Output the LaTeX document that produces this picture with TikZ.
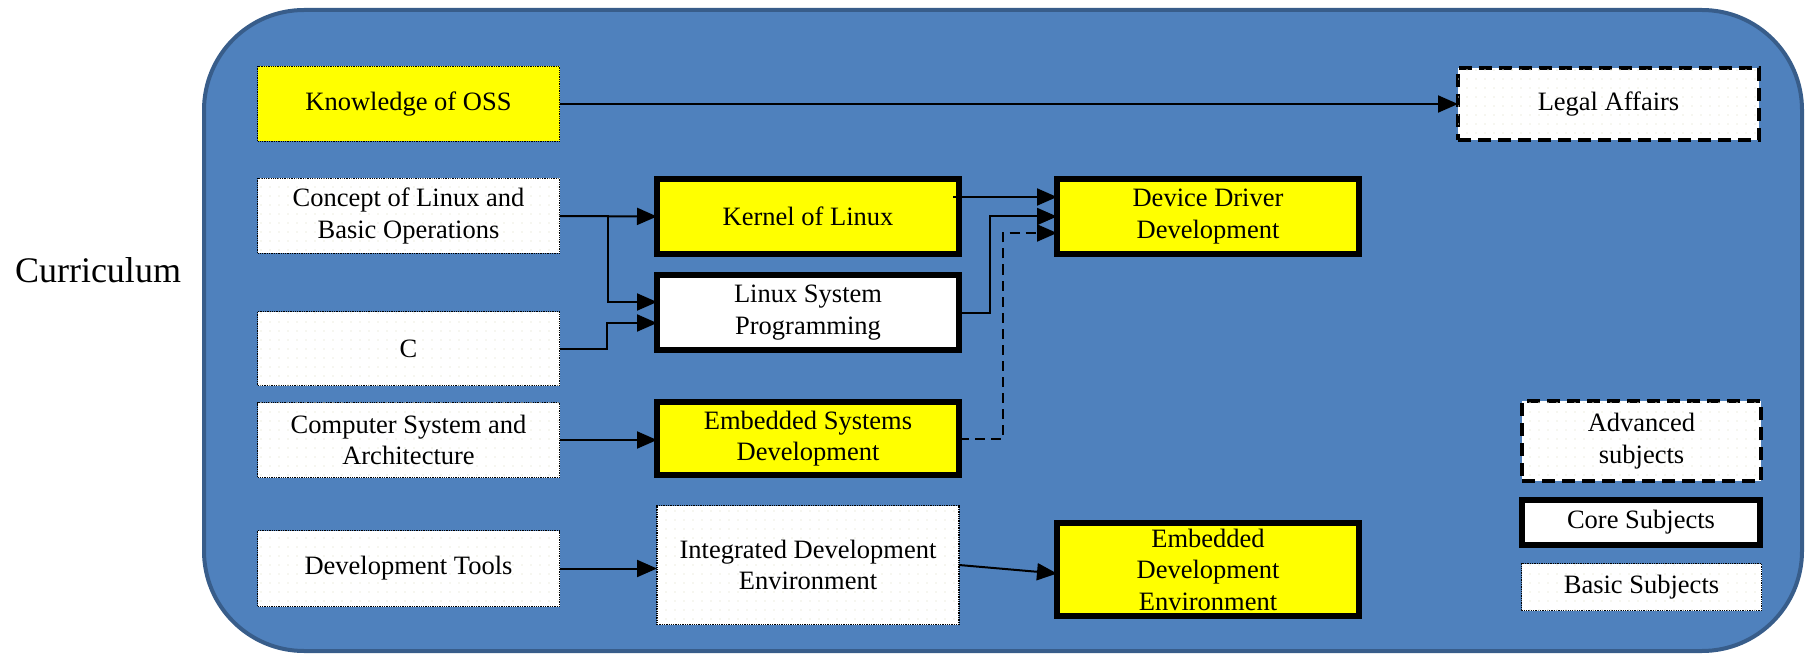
\documentclass[tikz,border=0pt]{standalone}
\usepackage{fontspec}
\setmainfont{Liberation Serif}
\usetikzlibrary{arrows.meta,patterns.meta}
\definecolor{panelfill}{RGB}{79,129,189}
\definecolor{paneledge}{RGB}{56,93,138}
\definecolor{boxyellow}{RGB}{255,255,0}
\definecolor{dotcol}{RGB}{238,238,226}
\begin{document}
\begin{tikzpicture}[x=1pt,y=-1pt,
  every node/.style={font=\rmfamily\fontsize{26.5}{31.5}\selectfont, align=center, inner sep=0pt, outer sep=0pt},
  dotfill/.style={fill=white, postaction={pattern={Dots[distance=9pt,radius=0.9pt]}, pattern color=dotcol}},
  basicbox/.style={draw=black, line width=1.3pt, densely dotted, dotfill},
  corebox/.style={draw=black, line width=5.5pt, fill=white},
  advbox/.style={draw=black, line width=4pt, dash pattern=on 13pt off 7pt, dotfill},
  arr/.style={draw=black, line width=2pt, -{Triangle[length=20pt,width=17pt]}},
  dasharr/.style={arr, dash pattern=on 10pt off 6pt}
]
\useasboundingbox (0,0) rectangle (1805,655);
\draw[fill=panelfill, draw=paneledge, line width=4pt, rounded corners=100pt] (204,10) rectangle (1802,651);
\node[font=\rmfamily\fontsize{36}{40}\selectfont] (title) at (98,270) {Curriculum};

% basic subjects
\node[draw=black, line width=1.3pt, densely dotted, fill=boxyellow, minimum width=302pt, minimum height=75pt] (oss) at (408.5,104) {Knowledge of OSS};
\node[basicbox, minimum width=302pt, minimum height=75pt] (concept) at (408.5,216) {Concept of Linux and\\Basic Operations};
\node[basicbox, minimum width=302pt, minimum height=74pt] (c) at (408.5,348.5) {C};
\node[basicbox, minimum width=302pt, minimum height=75pt] (csa) at (408.5,440) {Computer System and\\Architecture};
\node[basicbox, minimum width=302pt, minimum height=76pt] (tools) at (408.5,568.5) {Development Tools};
\node[basicbox, minimum width=302pt, minimum height=119pt] (ide) at (808,565) {Integrated Development\\Environment};

% core subjects
\node[corebox, fill=boxyellow, minimum width=302pt, minimum height=75pt] (kernel) at (808,216.5) {Kernel of Linux};
\node[corebox, minimum width=302pt, minimum height=75pt] (lsp) at (808,312.5) {Linux System\\Programming};
\node[corebox, fill=boxyellow, minimum width=302pt, minimum height=73pt] (esd) at (808,438.5) {Embedded Systems\\Development};
\node[corebox, fill=boxyellow, minimum width=302pt, minimum height=75pt] (ddd) at (1208,216.5) {Device Driver\\Development};
\node[corebox, fill=boxyellow, minimum width=302pt, minimum height=93pt] (ede) at (1208,569.5) {Embedded\\Development\\Environment};

% advanced
\node[advbox, minimum width=301pt, minimum height=72pt] (legal) at (1608.5,104) {Legal Affairs};

% legend
\node[advbox, minimum width=239pt, minimum height=80pt] (legadv) at (1641.5,441) {Advanced\\subjects};
\node[corebox, minimum width=238pt, minimum height=45pt] (legcore) at (1641,522.5) {\raisebox{-6pt}{Core Subjects}};
\node[basicbox, minimum width=240pt, minimum height=47pt] (legbasic) at (1641.5,587) {Basic Subjects};

% connectors
\draw[arr] (oss.east) -- (legal.west);
\draw[arr] (concept.east) -- (kernel.west);
\draw[arr] (concept.east) -- ++(48,0) |- ([yshift=10.5pt]lsp.west);
\draw[arr] (c.east) -- ++(47,0) |- ([yshift=-10.5pt]lsp.west);
\draw[arr] ([yshift=19.5pt,xshift=-6pt]kernel.east) -- ([yshift=19.5pt]ddd.west);
\draw[arr] (lsp.east) -- ++(31,0) |- (ddd.west);
\draw[dasharr] (esd.east) -- ++(44,0) |- ([yshift=-16.5pt]ddd.west);
\draw[arr] (csa.east) -- (csa.east -| esd.west);
\draw[arr] (tools.east) -- (tools.east -| ide.west);
\draw[arr] (ide.east) -- ([yshift=-4pt]ede.west);
\end{tikzpicture}
\end{document}
